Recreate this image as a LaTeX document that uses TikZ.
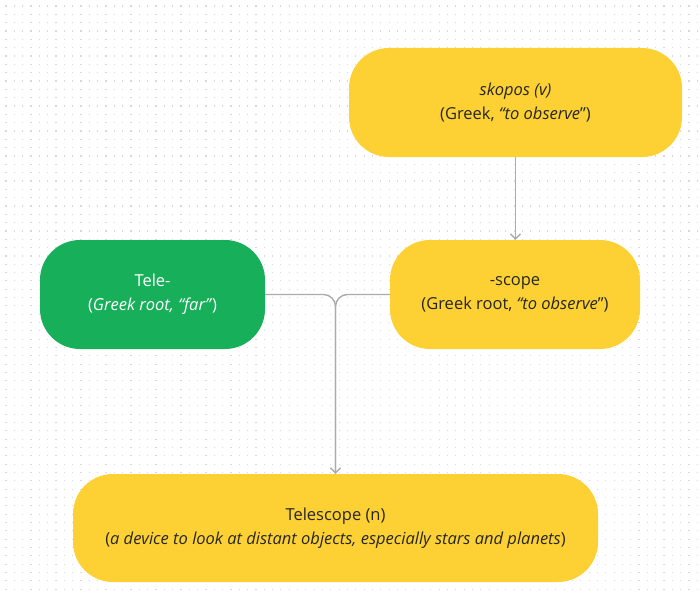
\documentclass[tikz,border=0pt]{standalone}
\usepackage{fontspec}
\setmainfont{Open Sans}
\usetikzlibrary{arrows.meta}

\definecolor{wordyellow}{HTML}{FDD133}
\definecolor{rootgreen}{HTML}{18AF5B}
\definecolor{inkdark}{HTML}{262626}
\definecolor{linkgray}{HTML}{ABABAB}
\definecolor{dotgray}{HTML}{D8D8D8}

\begin{document}
\begin{tikzpicture}[x=1pt, y=-1pt,
	wordbox/.style={rounded corners=40pt, fill=wordyellow, text=inkdark, align=center,
		font=\fontsize{16.5}{24}\selectfont, minimum height=109pt, inner sep=0pt},
	rootbox/.style={wordbox, fill=rootgreen, text=white},
	link/.style={draw=linkgray, line width=1.4pt},
	linkarrow/.style={link, -{Straight Barb[length=5pt, width=10pt, line width=1.4pt]}}]
	\useasboundingbox (0,0) rectangle (700,596);
	% dotted background
	\foreach \r in {0,...,71}
		\draw[dotgray, line width=1.2pt, dash pattern=on 1.2pt off 7.13pt]
			(5.4,{6+8.33*\r}) -- (700,{6+8.33*\r});
	% words
	\node[wordbox, minimum width=333pt] (skopos) at (515.5,102.5)
		{\textit{skopos (v)}\\(Greek, \textit{``to observe}'')};
	\node[wordbox, minimum width=250pt] (scope) at (515,294.5)
		{-scope\\(Greek root, \textit{``to observe}'')};
	\node[rootbox, minimum width=225pt] (tele) at (152.5,294.5)
		{Tele-\\(\textit{Greek root, ``far''})};
	\node[wordbox, minimum width=525pt, minimum height=108pt] (telescope) at (335.5,528)
		{Telescope (n)\\(\textit{a device to look at distant objects, especially stars and planets})};
	% links
	\draw[linkarrow] (skopos.south) -- (skopos.south |- scope.north);
	\draw[link, rounded corners=12pt] (scope.west) -| (telescope.north);
	\draw[linkarrow, rounded corners=12pt] (tele.east) -| (telescope.north);
\end{tikzpicture}
\end{document}
